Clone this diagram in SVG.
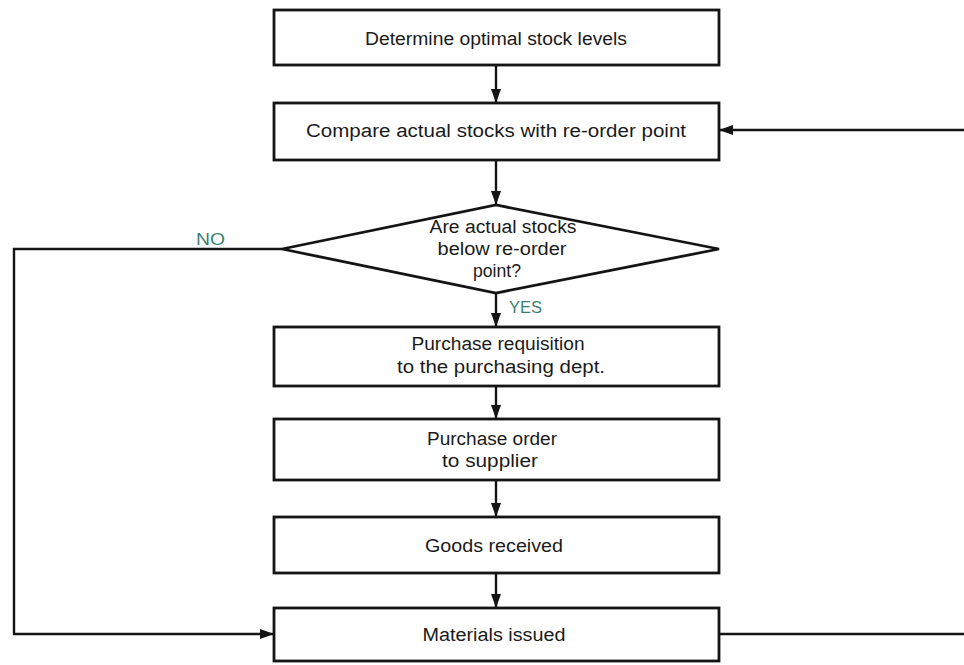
<svg xmlns="http://www.w3.org/2000/svg" width="964" height="665" viewBox="0 0 964 665">
  <style>
    .box { fill: #ffffff; stroke: #141414; stroke-width: 2.8; }
    .lbl { font-family: "Liberation Sans", Arial, sans-serif; font-size: 18px; fill: #1a1a1a; text-anchor: middle; }
    .tag { font-family: "Liberation Sans", Arial, sans-serif; font-size: 16px; fill: #3c7f70; text-anchor: start; }
    .wire { fill: none; stroke: #141414; stroke-width: 2.4; }
  </style>
  <defs>
    <marker id="head" markerUnits="userSpaceOnUse" markerWidth="15" markerHeight="11" refX="14" refY="5.5" orient="auto">
      <path d="M0,0.5 L14,5.5 L0,10.5 z" fill="#141414"/>
    </marker>
  </defs>
  <rect width="964" height="665" fill="#ffffff"/>

  <!-- connectors -->
  <g id="connectors">
    <path class="wire" d="M496,65 V103" marker-end="url(#head)"/>
    <path class="wire" d="M496,160 V205" marker-end="url(#head)"/>
    <path class="wire" d="M496,293 V327" marker-end="url(#head)"/>
    <path class="wire" d="M496,386 V419" marker-end="url(#head)"/>
    <path class="wire" d="M496,480 V517" marker-end="url(#head)"/>
    <path class="wire" d="M496,573 V608" marker-end="url(#head)"/>
    <!-- NO branch: around the left side down to the issue step -->
    <path class="wire" d="M282,249 H14 V634 H274" marker-end="url(#head)"/>
    <!-- loop back from the issue step to the comparison step -->
    <path class="wire" d="M719,634 H985 V130 H719" marker-end="url(#head)"/>
    <text class="tag" x="196" y="245" textLength="29" lengthAdjust="spacingAndGlyphs">NO</text>
    <text class="tag" x="509" y="313" textLength="33" lengthAdjust="spacingAndGlyphs">YES</text>
  </g>

  <g id="n1">
    <rect class="box" x="274" y="10" width="445" height="55"/>
    <text class="lbl" x="496" y="45" textLength="262" lengthAdjust="spacingAndGlyphs">Determine optimal stock levels</text>
  </g>

  <g id="n2">
    <rect class="box" x="274" y="103" width="445" height="57"/>
    <text class="lbl" x="496" y="137" textLength="380" lengthAdjust="spacingAndGlyphs">Compare actual stocks with re-order point</text>
  </g>

  <g id="n3">
    <polygon class="box" points="282,249 496,205 719,249 496,293"/>
    <text class="lbl" x="503" y="233" textLength="147" lengthAdjust="spacingAndGlyphs">Are actual stocks</text>
    <text class="lbl" x="502" y="255" textLength="129" lengthAdjust="spacingAndGlyphs">below re-order</text>
    <text class="lbl" x="497" y="277" textLength="48" lengthAdjust="spacingAndGlyphs">point?</text>
  </g>

  <g id="n4">
    <rect class="box" x="274" y="327" width="445" height="59"/>
    <text class="lbl" x="498" y="350" textLength="173" lengthAdjust="spacingAndGlyphs">Purchase requisition</text>
    <text class="lbl" x="501" y="373" textLength="208" lengthAdjust="spacingAndGlyphs">to the purchasing dept.</text>
  </g>

  <g id="n5">
    <rect class="box" x="274" y="419" width="445" height="61"/>
    <text class="lbl" x="492" y="445" textLength="130" lengthAdjust="spacingAndGlyphs">Purchase order</text>
    <text class="lbl" x="490" y="467" textLength="96" lengthAdjust="spacingAndGlyphs">to supplier</text>
  </g>

  <g id="n6">
    <rect class="box" x="274" y="517" width="445" height="56"/>
    <text class="lbl" x="494" y="552" textLength="138" lengthAdjust="spacingAndGlyphs">Goods received</text>
  </g>

  <g id="n7">
    <rect class="box" x="274" y="608" width="445" height="53"/>
    <text class="lbl" x="494" y="641" textLength="143" lengthAdjust="spacingAndGlyphs">Materials issued</text>
  </g>
</svg>
